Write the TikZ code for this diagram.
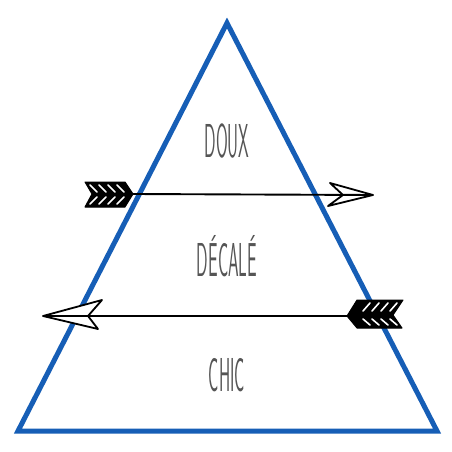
\documentclass[tikz,border=0pt]{standalone}
\usepackage{tikz}
\definecolor{triblue}{RGB}{22,94,182}
\definecolor{txtgrey}{RGB}{85,85,85}
\tikzset{
  tri/.style={draw=triblue,line width=5pt,line join=miter},
  word/.style={text=txtgrey,font=\sffamily\fontsize{34}{34}\selectfont,inner sep=0pt},
  shaft/.style={draw=black,line width=1.9pt},
  head/.style={draw=black,fill=white,line width=1.8pt,line join=round},
  fletch/.style={fill=black,draw=black,line width=1pt,line join=round},
  hatch/.style={draw=white,line width=1.6pt,line cap=round}
}
\newcommand{\squeeze}[1]{\scalebox{0.5}[1.4]{#1}}
\begin{document}
\begin{tikzpicture}[x=1pt,y=-1pt]
\useasboundingbox (0,0) rectangle (452,452);

% pyramid
\coordinate (apex) at (227,23);
\coordinate (bl) at (18,431);
\coordinate (br) at (437,431);
\draw[tri] (apex) -- (br) -- (bl) -- cycle;

% levels
\node[word] (doux) at (227,141) {\squeeze{DOUX}};
\node[word,anchor=south] (decale) at (227,277) {\squeeze{DÉCALÉ}};
\node[word] (chic) at (227,375) {\squeeze{CHIC}};

% upper arrow, pointing right
\coordinate (tipA) at (373,195);
\coordinate (tailA) at (133,194);
\fill[fletch] (85,182) -- (125,182) -- (tailA) -- (125,207) -- (85,207) -- (92,194) -- cycle;
\foreach \x in {90,99,108,117} {
  \draw[hatch] (\x,185) -- (\x+7,192);
  \draw[hatch] (\x,204) -- (\x+7,197);
}
\draw[head] (tipA) -- (330,183) -- (343,195) -- (328,206) -- cycle;
\draw[shaft] (tailA) -- (tipA);

% lower arrow, pointing left
\coordinate (tipB) at (43,316);
\coordinate (tailB) at (347,316);
\fill[fletch] (403,300) -- (357,300) -- (tailB) -- (357,328) -- (402,328) -- (393,315) -- cycle;
\foreach \x in {397,388,379,370} {
  \draw[hatch] (\x,303) -- (\x-7,311);
  \draw[hatch] (\x,325) -- (\x-7,319);
}
\draw[head] (tipB) -- (102,300) -- (88,316) -- (98,329) -- cycle;
\draw[shaft] (tipB) -- (tailB);
\end{tikzpicture}
\end{document}
